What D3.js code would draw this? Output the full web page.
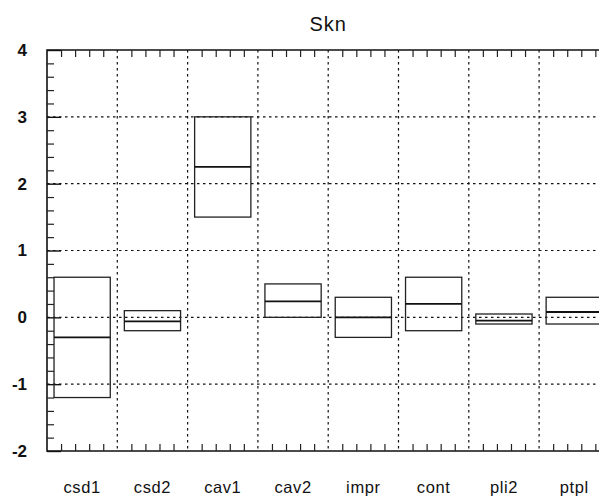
<!DOCTYPE html>
<html>
<head>
<meta charset="utf-8">
<script src="https://cdn.jsdelivr.net/npm/d3@7"></script>
<style>
  body { margin: 0; background: #fff; }
  svg { display: block; font-family: "Liberation Sans", Arial, sans-serif; }
  .grid line { stroke: #111; stroke-width: 1.2; stroke-dasharray: 2.5,3.5; }
  .box { fill: none; stroke: #222; stroke-width: 1.3; }
  .median { stroke: #111; stroke-width: 1.8; }
</style>
</head>
<body>
<script>
(function(){

    //chart data
    var categories = ["csd1", "csd2", "cav1", "cav2", "impr", "cont", "pli2", "ptpl"];
    var upper  = [0.6, 0.1, 3.0, 0.5, 0.3, 0.6, 0.05, 0.3];
    var lower  = [-1.2, -0.2, 1.5, 0.0, -0.3, -0.2, -0.1, -0.1];
    var median = [-0.3, -0.06, 2.25, 0.24, 0.0, 0.2, -0.05, 0.08];
    var yTicks = [-2, -1, 0, 1, 2, 3, 4];
    var title = "Skn";

    var width = 599, height = 502;
    var left = 47, top = 50, bottom = 451;
    var colStep = 70.3;
    var right = left + colStep * categories.length; //runs past the window edge

    var svg = d3.select("body")
        .append("svg")
        .attr("width", width)
        .attr("height", height);

    var y = d3.scaleLinear()
        .domain([-2, 4])
        .range([bottom, top]);

    //one column per category, boxes take the middle 80%
    var xCol = d3.scaleBand()
        .domain(categories)
        .range([left, right])
        .padding(0);

    var xBox = d3.scaleBand()
        .domain(categories)
        .range([left, right])
        .paddingInner(0.2)
        .paddingOuter(0.1);

    //minor tick positions along x (5 per column)
    var xMinor = d3.scaleLinear()
        .domain([0, categories.length])
        .range([left, right]);

    //grid
    var grid = svg.append("g").attr("class", "grid");
    grid.selectAll(".hg")
        .data(yTicks.filter(function(d){ return d > -2 && d < 4; }))
        .enter()
        .append("line")
        .attr("x1", left).attr("x2", width)
        .attr("y1", function(d){ return y(d); })
        .attr("y2", function(d){ return y(d); });
    grid.selectAll(".vg")
        .data(categories.slice(1))
        .enter()
        .append("line")
        .attr("x1", function(d){ return xCol(d); })
        .attr("x2", function(d){ return xCol(d); })
        .attr("y1", top).attr("y2", bottom);

    //frame
    svg.append("path")
        .attr("d", "M" + width + "," + top + "H" + left + "V" + bottom + "H" + width)
        .attr("fill", "none")
        .attr("stroke", "#111")
        .attr("stroke-width", 1.6);

    //y axis: major and minor ticks pointing inward
    var yMinor = d3.range(-2, 4.001, 0.2).filter(function(v){
        return Math.abs(v - Math.round(v)) > 0.01;
    });
    svg.append("g")
        .attr("transform", "translate(" + left + ",0)")
        .call(d3.axisLeft(y).tickValues(yMinor).tickSize(-7).tickSizeOuter(0).tickFormat(""))
        .call(function(g){ g.select(".domain").remove(); g.selectAll("line").attr("stroke", "#222").attr("stroke-width", 1.2); });

    var yAxis = svg.append("g")
        .attr("transform", "translate(" + left + ",0)")
        .call(d3.axisLeft(y).tickValues(yTicks).tickSize(-14).tickSizeOuter(0).tickPadding(20).tickFormat(d3.format("d")))
        .call(function(g){ g.select(".domain").remove(); g.selectAll("line").attr("stroke", "#111").attr("stroke-width", 1.4); });
    yAxis.selectAll("text")
        .style("font-size", "17px")
        .style("font-weight", "bold")
        .style("font-family", "'Liberation Sans', Arial, sans-serif")
        .attr("fill", "#111")
        .text(function(d){ return d < 0 ? "-" + Math.abs(d) : d; });

    //x minor ticks on top and bottom edges
    var xMinorVals = d3.range(0, categories.length + 0.001, 0.2).filter(function(v){
        return Math.abs(v - Math.round(v)) > 0.01;
    });
    svg.append("g")
        .attr("transform", "translate(0," + bottom + ")")
        .call(d3.axisBottom(xMinor).tickValues(xMinorVals).tickSize(-7).tickSizeOuter(0).tickFormat(""))
        .call(function(g){ g.select(".domain").remove(); g.selectAll("line").attr("stroke", "#222").attr("stroke-width", 1.2); });
    svg.append("g")
        .attr("transform", "translate(0," + top + ")")
        .call(d3.axisTop(xMinor).tickValues(xMinorVals).tickSize(-7).tickSizeOuter(0).tickFormat(""))
        .call(function(g){ g.select(".domain").remove(); g.selectAll("line").attr("stroke", "#222").attr("stroke-width", 1.2); });

    //category labels
    var xAxis = svg.append("g")
        .attr("transform", "translate(0," + bottom + ")")
        .call(d3.axisBottom(xCol).tickSize(0).tickPadding(30))
        .call(function(g){ g.select(".domain").remove(); });
    xAxis.selectAll("text")
        .style("font-size", "16.5px")
        .style("letter-spacing", "0.6px")
        .style("font-family", "'Liberation Sans', Arial, sans-serif")
        .attr("fill", "#111");

    //boxes
    var rows = categories.map(function(c, i){
        return { cat: c, hi: upper[i], lo: lower[i], med: median[i] };
    });
    var boxes = svg.selectAll(".boxg")
        .data(rows)
        .enter()
        .append("g");
    boxes.append("rect")
        .attr("class", "box")
        .attr("x", function(d){ return xBox(d.cat); })
        .attr("width", xBox.bandwidth())
        .attr("y", function(d){ return y(d.hi); })
        .attr("height", function(d){ return y(d.lo) - y(d.hi); });
    boxes.append("line")
        .attr("class", "median")
        .attr("x1", function(d){ return xBox(d.cat); })
        .attr("x2", function(d){ return xBox(d.cat) + xBox.bandwidth(); })
        .attr("y1", function(d){ return y(d.med); })
        .attr("y2", function(d){ return y(d.med); });

    //title
    svg.append("text")
        .attr("x", (left + right) / 2)
        .attr("y", 31)
        .attr("text-anchor", "middle")
        .style("font-size", "20px")
        .style("letter-spacing", "1px")
        .attr("fill", "#111")
        .text(title);

})();
</script>
</body>
</html>
